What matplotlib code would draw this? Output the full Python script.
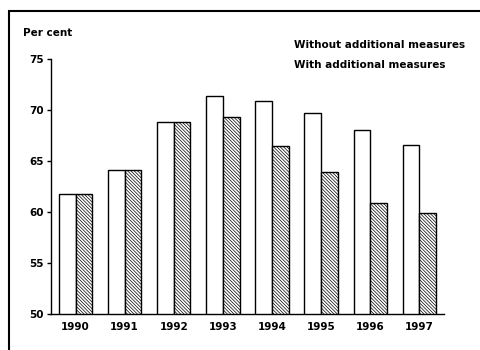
import numpy as np
import matplotlib
matplotlib.use("Agg")
import matplotlib.pyplot as plt
from matplotlib.patches import Rectangle

years = ["1990", "1991", "1992", "1993", "1994", "1995", "1996", "1997"]
without_measures = [61.8, 64.1, 68.8, 71.4, 70.9, 69.7, 68.0, 66.6]
with_measures = [61.8, 64.1, 68.8, 69.3, 66.5, 63.9, 60.9, 59.9]
yticks = [50, 55, 60, 65, 70, 75]

plt.rcParams["font.family"] = ["DejaVu Sans"]
plt.rcParams["font.weight"] = "bold"
plt.rcParams["hatch.linewidth"] = 0.5

fig = plt.figure(figsize=(4.81, 3.5), dpi=100)
ax = fig.add_axes([0.106, 0.103, 0.817, 0.7286])

x = np.arange(len(years))
w = 0.34
ax.bar(x - w / 2, without_measures, w, color="white", edgecolor="black", linewidth=1.0)
ax.bar(x + w / 2, with_measures, w, color="white", edgecolor="black", linewidth=1.0,
       hatch="\\" * 10)

ax.set_xlim(-0.5, 7.5)
ax.set_ylim(50, 75)
ax.set_yticks(yticks)
ax.set_xticks(x)
ax.set_xticklabels(years)
ax.tick_params(axis="y", length=3, width=1, labelsize=7.5, pad=2)
ax.tick_params(axis="x", length=0, labelsize=7.5, pad=6)
for s in ["top", "right"]:
    ax.spines[s].set_visible(False)
ax.spines["left"].set_linewidth(1)
ax.spines["bottom"].set_linewidth(1)

fig.text(23 / 481, 1 - 33 / 350, "Per cent", fontsize=7.5, fontweight="bold", va="center")
fig.text(294 / 481, 1 - 45 / 350, "Without additional measures", fontsize=7.5,
         fontweight="bold", va="center")
fig.text(294 / 481, 1 - 65 / 350, "With additional measures", fontsize=7.5,
         fontweight="bold", va="center")

# frame round the figure (left and top edges visible)
fig.patches.append(Rectangle((9 / 481, -0.1), 1.2, 1.1 - 11 / 350, transform=fig.transFigure,
                             fill=False, edgecolor="black", linewidth=1.5))

fig.savefig("out.png", dpi=100)
